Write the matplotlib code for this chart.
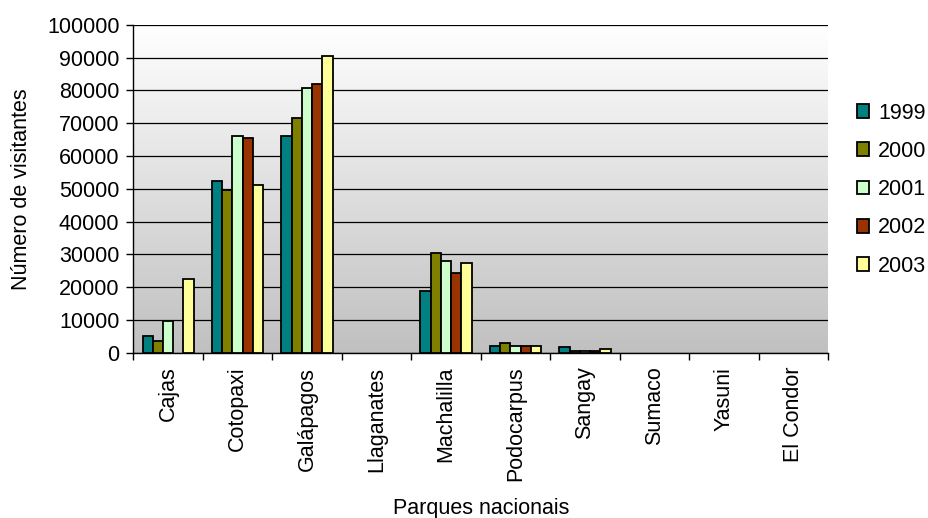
import numpy as np
import matplotlib.pyplot as plt
from matplotlib.colors import LinearSegmentedColormap

plt.rcParams['font.family'] = ['Liberation Sans', 'DejaVu Sans']

parks = ['Cajas', 'Cotopaxi', 'Galápagos', 'Llaganates', 'Machalilla',
         'Podocarpus', 'Sangay', 'Sumaco', 'Yasuni', 'El Condor']
years = ['1999', '2000', '2001', '2002', '2003']
v1999 = [5000, 52500, 66000, 0, 18800, 2200, 1700, 0, 0, 0]
v2000 = [3700, 49500, 71500, 0, 30400, 2900, 500, 0, 0, 0]
v2001 = [9800, 66000, 80800, 0, 28000, 2000, 500, 0, 0, 0]
v2002 = [0, 65400, 82100, 0, 24400, 2000, 500, 0, 0, 0]
v2003 = [22500, 51300, 90600, 0, 27400, 2000, 1100, 0, 0, 0]
series = [v1999, v2000, v2001, v2002, v2003]
colors = ['#008080', '#808000', '#CCFFCC', '#993300', '#FFFF99']

fs = 15.5

fig = plt.figure(figsize=(9.29, 5.18), dpi=100)
ax = fig.add_axes([0.1435, 0.319, 0.748, 0.633])

# gradient background, white at top to grey at bottom
grad = np.linspace(0, 1, 256).reshape(-1, 1)
ax.imshow(grad, extent=[-0.5, len(parks) - 0.5, 0, 100000], aspect='auto',
          cmap=LinearSegmentedColormap.from_list('bg', ['#C0C0C0', '#FFFFFF']),
          origin='lower', zorder=0)

x = np.arange(len(parks))
w = 0.147
for i, (vals, c, yr) in enumerate(zip(series, colors, years)):
    vals = np.array(vals)
    keep = vals > 0  # zero values are not drawn
    ax.bar(x[keep] + (i - 2) * w, vals[keep], width=w, color=c,
           edgecolor='black', linewidth=1.3, label=yr, zorder=3)

ax.set_xlim(-0.5, len(parks) - 0.5)
ax.set_ylim(0, 100000)
ax.set_yticks(np.arange(0, 100001, 10000))
ax.set_yticklabels([str(v) for v in range(0, 100001, 10000)], fontsize=fs)
ax.yaxis.grid(True, color='black', linewidth=0.9, zorder=1)
ax.set_axisbelow(True)

ax.set_xticks(x)
ax.set_xticklabels(parks, rotation=90, fontsize=fs)
ax.tick_params(axis='x', length=0, pad=10)
ax.set_xticks(np.arange(-0.5, len(parks)), minor=True)
ax.tick_params(axis='x', which='minor', length=5, width=1)
ax.tick_params(axis='y', length=5, width=1, pad=5)

for s in ['top', 'right']:
    ax.spines[s].set_visible(False)
for s in ['left', 'bottom']:
    ax.spines[s].set_linewidth(1)

ax.set_ylabel('Número de visitantes', fontsize=fs, labelpad=11)
ax.set_xlabel('Parques nacionais', fontsize=fs, va='center')
ax.xaxis.set_label_coords(0.5, -0.474)

ax.legend(loc='center left', bbox_to_anchor=(0.922, 0.634),
          bbox_transform=fig.transFigure, frameon=False,
          fontsize=fs, handlelength=0.6, handleheight=0.6,
          labelspacing=0.8, handletextpad=0.4, borderpad=0, borderaxespad=0)

fig.savefig('out.png', dpi=100)
